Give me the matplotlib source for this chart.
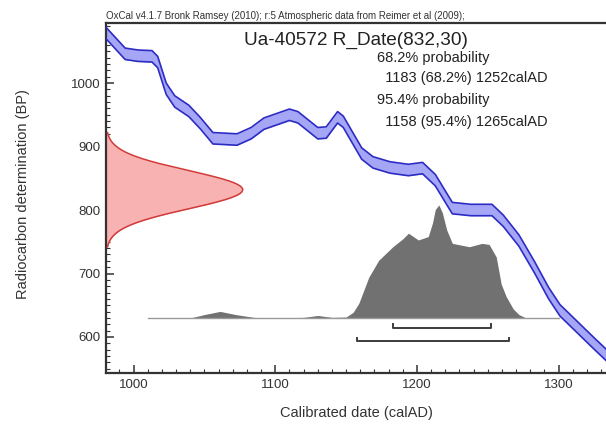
import numpy as np
import matplotlib
matplotlib.use("Agg")
import matplotlib.pyplot as plt
from matplotlib.ticker import MultipleLocator

plt.rcParams['font.family'] = ['Liberation Sans', 'DejaVu Sans']

# calibration curve (IntCal09): cal AD, BP centre, 1 sigma
cal_year = [980, 994, 1003, 1013, 1017, 1023, 1029, 1039, 1047, 1056, 1073, 1083,
            1092, 1110, 1116, 1130, 1136, 1144, 1148, 1161, 1169, 1181, 1194, 1204,
            1213, 1225, 1238, 1253, 1261, 1272, 1283, 1293, 1301, 1313, 1325, 1334]
cal_bp = [1080, 1046, 1043, 1042, 1033, 991, 971, 956, 937, 913, 911, 921,
          936, 950, 946, 921, 922, 946, 939, 889, 875, 867, 863, 866,
          847, 803, 800, 800, 783, 752, 710, 669, 642, 616, 590, 571]
cal_err = 9

# radiocarbon date
r_name = "Ua-40572 R_Date(832,30)"
r_mean = 832
r_sd = 30

# calibrated probability (relative, peak = 1)
post_year = [1010, 1040, 1050, 1061, 1072, 1085, 1100, 1120, 1130, 1140, 1150, 1155,
             1159, 1166, 1173, 1183, 1190, 1194, 1201, 1208, 1211, 1213, 1215.5, 1218,
             1221, 1225, 1237, 1246, 1251, 1256, 1259.5, 1263, 1268, 1272, 1277, 1300]
post_prob = [0.0, 0.0, 0.03, 0.058, 0.03, 0.005, 0.0, 0.005, 0.022, 0.005, 0.008, 0.05,
             0.13, 0.36, 0.51, 0.63, 0.70, 0.75, 0.69, 0.72, 0.84, 0.96, 1.0, 0.93,
             0.78, 0.66, 0.63, 0.66, 0.65, 0.54, 0.30, 0.19, 0.08, 0.03, 0.0, 0.0]

# ranges
range_68 = (1183, 1252)
range_95 = (1158, 1265)

header = "OxCal v4.1.7 Bronk Ramsey (2010); r:5 Atmospheric data from Reimer et al (2009);"
summary = ["68.2% probability", "  1183 (68.2%) 1252calAD",
           "95.4% probability", "  1158 (95.4%) 1265calAD"]

W, H = 606, 425
fig = plt.figure(figsize=(W / 100, H / 100), dpi=100)
ax = fig.add_axes([106 / W, 1 - 373 / H, 1 - 106 / W, (373 - 22.5) / H])
x0, x1 = 980.5, 1333.5
y0, y1 = 543.3, 1095.3
ax.set_xlim(x0, x1)
ax.set_ylim(y0, y1)

# calibration band
cy = np.array(cal_year, float)
cb = np.array(cal_bp, float)
ax.fill_between(cy, cb - cal_err, cb + cal_err, color="#a6a6f6", lw=0, zorder=2)
ax.plot(cy, cb + cal_err, color="#2c2cc4", lw=1.2, zorder=3)
ax.plot(cy, cb - cal_err, color="#2c2cc4", lw=1.2, zorder=3)

# radiocarbon date on the y axis
yy = np.linspace(r_mean - 3 * r_sd, r_mean + 3 * r_sd, 200)
gx = x0 + 96.5 * np.exp(-0.5 * ((yy - r_mean) / r_sd) ** 2)
ax.fill_betweenx(yy, x0, gx, color="#f9b2b2", lw=0, zorder=2)
ax.plot(gx, yy, color="#d23a3a", lw=1.1, zorder=3)

# calibrated distribution
base = 630
scale = 178
py = base + scale * np.array(post_prob)
ax.fill_between(post_year, base, py, color="#717171", lw=0, zorder=4)
ax.plot([post_year[0], post_year[-1]], [base, base], color="#9a9a9a", lw=1.0, zorder=4)

# range brackets
for (a, b), yb in [(range_68, 614), (range_95, 593)]:
    ax.plot([a, a, b, b], [yb + 6, yb, yb, yb + 6], color="#3c3c3c", lw=1.4, zorder=5)

# text
fig.text(356 / W, 1 - 40 / H, r_name, ha="center", va="center", fontsize=13.7, color="#222222")
ys = [58, 78, 100, 122]
for s, yv in zip(summary, ys):
    fig.text(377 / W, 1 - yv / H, s, ha="left", va="center", fontsize=10.5, color="#222222")
fig.text(106 / W, 1 - 16 / H, header, ha="left", va="center", fontsize=7.0, color="#333333")

# axes styling
for side in ["left", "bottom", "top"]:
    ax.spines[side].set_linewidth(1.6)
    ax.spines[side].set_color("#333333")
ax.spines["right"].set_visible(False)
ax.xaxis.set_major_locator(MultipleLocator(100))
ax.xaxis.set_minor_locator(MultipleLocator(10))
ax.yaxis.set_major_locator(MultipleLocator(100))
ax.yaxis.set_minor_locator(MultipleLocator(10))
ax.tick_params(which="major", direction="in", length=6, width=1.1, color="#333333",
               labelsize=9.5, labelcolor="#333333", top=False, right=False)
ax.tick_params(which="minor", direction="in", length=3, width=0.8, color="#333333",
               top=False, right=False)
ax.tick_params(axis="x", pad=4)
ax.tick_params(axis="y", pad=4)

fig.text(23 / W, 1 - 194 / H, "Radiocarbon determination (BP)", rotation=90,
         ha="center", va="center", fontsize=10.5, color="#333333")
fig.text(356 / W, 1 - 413 / H, "Calibrated date (calAD)", ha="center", va="center",
         fontsize=10.5, color="#333333")

fig.savefig("out.png", dpi=100)
